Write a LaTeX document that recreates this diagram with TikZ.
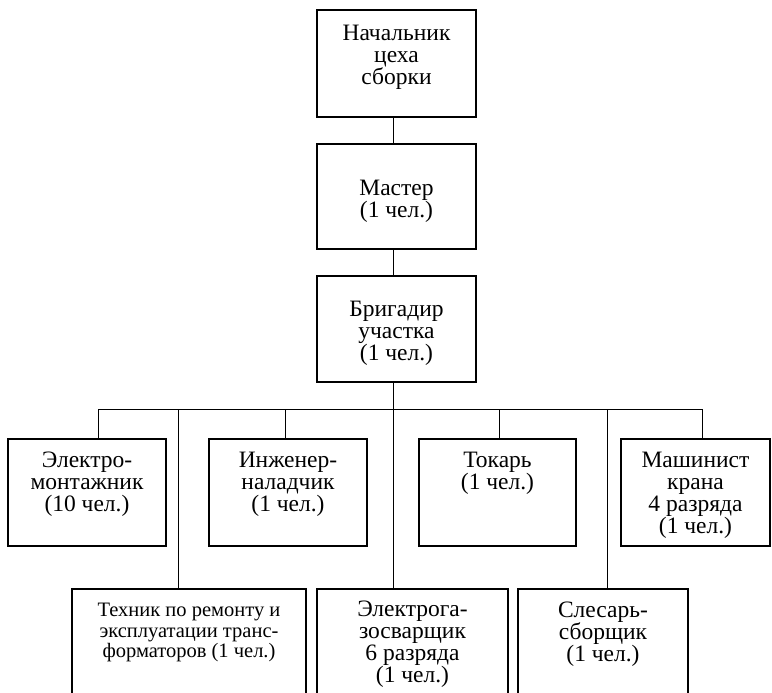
\documentclass[tikz,border=0pt]{standalone}
\usepackage{fontspec}
\setmainfont{Liberation Serif}
\begin{document}
\begin{tikzpicture}[x=1pt,y=-1pt,
  box/.style={draw, line width=2.6pt, inner sep=0pt, outer sep=0pt},
  conn/.style={line width=0.9pt},
  txt/.style={anchor=north, inner sep=0pt, align=center, font=\fontsize{23.5}{22}\selectfont},
  txts/.style={anchor=north, inner sep=0pt, align=center, font=\fontsize{20.5}{20.5}\selectfont}]
\useasboundingbox (0,0) rectangle (772,693);
\clip (0,0) rectangle (772,693);
% boxes
\node[box, minimum width=159pt, minimum height=107pt] (top) at (396.5,63.5) {};
\node[box, minimum width=159pt, minimum height=105pt] (mas) at (396.5,196.5) {};
\node[box, minimum width=159pt, minimum height=106pt] (bri) at (396.5,329) {};
\node[box, minimum width=158pt, minimum height=107pt] (el) at (87,492.5) {};
\node[box, minimum width=158pt, minimum height=107pt] (inz) at (288,492.5) {};
\node[box, minimum width=157pt, minimum height=107pt] (tok) at (497.5,492.5) {};
\node[box, minimum width=149pt, minimum height=107pt] (mash) at (695.5,492.5) {};
\node[box, minimum width=234pt, minimum height=130pt] (tech) at (189,654) {};
\node[box, minimum width=191pt, minimum height=130pt] (elg) at (412.5,654) {};
\node[box, minimum width=170pt, minimum height=130pt] (sles) at (603,654) {};
% texts
\node[txt] (ttop) at ([yshift=-15pt]top.north) {Начальник\\цеха\\сборки};
\node[txt, anchor=center] (tmas) at ([yshift=-5pt]mas.center) {Мастер\\(1 чел.)};
\node[txt, anchor=center] (tbri) at ([yshift=-4pt]bri.center) {Бригадир\\участка\\(1 чел.)};
\node[txt] (tel) at ([yshift=-13pt]el.north) {Электро-\\монтажник\\(10 чел.)};
\node[txt] (tinz) at ([yshift=-13pt]inz.north) {Инженер-\\наладчик\\(1 чел.)};
\node[txt] (ttok) at ([yshift=-13pt]tok.north) {Токарь\\(1 чел.)};
\node[txt] (tmash) at ([yshift=-13pt]mash.north) {Машинист\\крана\\4 разряда\\(1 чел.)};
\node[txts] (ttech) at ([yshift=-14pt]tech.north) {Техник по ремонту и\\эксплуатации транс-\\форматоров (1 чел.)};
\node[txt] (telg) at ([yshift=-12pt]elg.north) {Электрога-\\зосварщик\\6 разряда\\(1 чел.)};
\node[txt] (tsles) at ([yshift=-13pt]sles.north) {Слесарь-\\сборщик\\(1 чел.)};
% bus coordinates
\coordinate (b1) at (98,409);
\coordinate (b2) at (178,409);
\coordinate (b3) at (285,409);
\coordinate (sp) at (393,409);
\coordinate (b5) at (499,409);
\coordinate (b6) at (607,409);
\coordinate (b7) at (702,409);
% connectors
\draw[conn] (top.south -| sp) -- (mas.north -| sp);
\draw[conn] (mas.south -| sp) -- (bri.north -| sp);
\draw[conn] (bri.south -| sp) -- (elg.north -| sp);
\draw[conn] (b1) -- (b7);
\draw[conn] (b1) -- (el.north -| b1);
\draw[conn] (b2) -- (tech.north -| b2);
\draw[conn] (b3) -- (inz.north -| b3);
\draw[conn] (b5) -- (tok.north -| b5);
\draw[conn] (b6) -- (sles.north -| b6);
\draw[conn] (b7) -- (mash.north -| b7);
\end{tikzpicture}
\end{document}
